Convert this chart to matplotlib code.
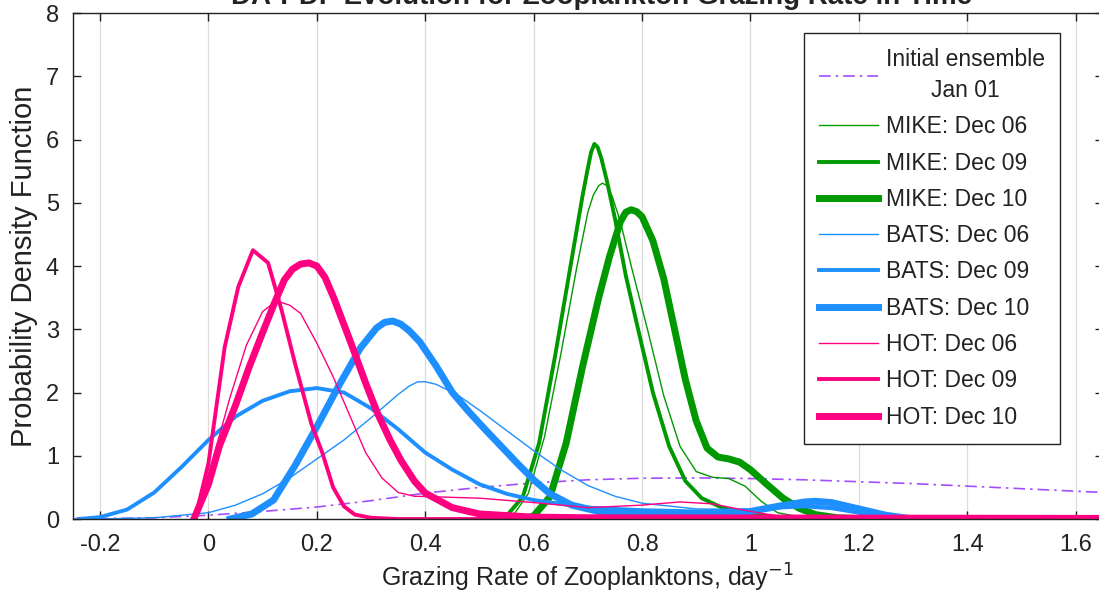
import matplotlib
matplotlib.use('Agg')
import matplotlib.pyplot as plt

plt.rcParams['font.family'] = ['Liberation Sans', 'DejaVu Sans']

# initial ensemble
init_x = [-0.25, -0.1, 0.0, 0.1, 0.2, 0.3, 0.4, 0.5, 0.6, 0.7, 0.8, 0.9, 1.0, 1.1, 1.2, 1.3, 1.4, 1.5, 1.6, 1.65]
init_y = [0, 0.02, 0.06, 0.12, 0.19, 0.29, 0.41, 0.5, 0.57, 0.62, 0.645, 0.65, 0.64, 0.62, 0.59, 0.56, 0.52, 0.48, 0.44, 0.42]

# MIKE
mike06_x = [0.50, 0.56, 0.59, 0.62, 0.65, 0.68, 0.70, 0.71, 0.72, 0.727, 0.735, 0.745, 0.76, 0.78, 0.81, 0.84, 0.87, 0.90, 0.93, 0.96, 0.99, 1.02, 1.05, 1.10, 1.20]
mike06_y = [0, 0.03, 0.4, 1.3, 2.6, 4.0, 4.85, 5.12, 5.27, 5.31, 5.27, 5.1, 4.7, 4.0, 3.0, 1.95, 1.15, 0.75, 0.66, 0.64, 0.52, 0.28, 0.1, 0.02, 0]
mike09_x = [0.50, 0.55, 0.58, 0.61, 0.64, 0.67, 0.69, 0.70, 0.706, 0.712, 0.718, 0.725, 0.735, 0.75, 0.77, 0.79, 0.82, 0.85, 0.88, 0.91, 0.95, 1.0, 1.05, 1.12]
mike09_y = [0, 0.05, 0.35, 1.2, 2.6, 4.1, 5.1, 5.55, 5.8, 5.93, 5.88, 5.7, 5.35, 4.75, 3.85, 3.1, 2.0, 1.15, 0.6, 0.33, 0.17, 0.08, 0.03, 0]
mike10_x = [0.58, 0.60, 0.63, 0.66, 0.69, 0.72, 0.74, 0.76, 0.77, 0.78, 0.79, 0.80, 0.82, 0.84, 0.86, 0.88, 0.90, 0.92, 0.94, 0.96, 0.98, 1.00, 1.03, 1.06, 1.09, 1.12, 1.16, 1.22]
mike10_y = [0, 0.05, 0.35, 1.2, 2.4, 3.5, 4.15, 4.7, 4.85, 4.89, 4.86, 4.78, 4.4, 3.8, 3.0, 2.2, 1.55, 1.12, 0.98, 0.95, 0.9, 0.78, 0.55, 0.33, 0.17, 0.07, 0.02, 0]

# BATS
bats06_x = [-0.2, -0.1, 0.0, 0.05, 0.1, 0.15, 0.2, 0.25, 0.3, 0.35, 0.37, 0.386, 0.40, 0.42, 0.46, 0.5, 0.55, 0.6, 0.65, 0.7, 0.75, 0.8, 0.9, 1.0, 1.05, 1.1, 1.15, 1.2, 1.3, 1.4]
bats06_y = [0, 0.02, 0.1, 0.22, 0.4, 0.65, 0.95, 1.25, 1.6, 1.97, 2.1, 2.17, 2.17, 2.13, 1.96, 1.72, 1.4, 1.08, 0.78, 0.53, 0.36, 0.25, 0.16, 0.15, 0.18, 0.22, 0.2, 0.12, 0.03, 0]
bats09_x = [-0.24, -0.2, -0.15, -0.1, -0.05, 0.0, 0.05, 0.1, 0.15, 0.2, 0.25, 0.3, 0.35, 0.4, 0.45, 0.5, 0.55, 0.6, 0.7, 0.8, 0.9, 1.0, 1.05, 1.1, 1.15, 1.2, 1.3]
bats09_y = [0, 0.03, 0.15, 0.42, 0.82, 1.25, 1.62, 1.87, 2.02, 2.07, 2.0, 1.75, 1.42, 1.05, 0.78, 0.55, 0.4, 0.3, 0.18, 0.14, 0.12, 0.14, 0.18, 0.2, 0.17, 0.1, 0]
bats10_x = [0.04, 0.08, 0.12, 0.16, 0.2, 0.24, 0.28, 0.31, 0.325, 0.34, 0.355, 0.37, 0.39, 0.42, 0.45, 0.48, 0.51, 0.54, 0.57, 0.6, 0.63, 0.67, 0.72, 0.8, 0.9, 1.0, 1.05, 1.1, 1.12, 1.15, 1.2, 1.25, 1.3]
bats10_y = [0, 0.08, 0.3, 0.85, 1.46, 2.1, 2.7, 3.02, 3.11, 3.13, 3.08, 2.98, 2.8, 2.42, 2.0, 1.7, 1.42, 1.15, 0.88, 0.62, 0.4, 0.22, 0.12, 0.08, 0.07, 0.12, 0.2, 0.27, 0.28, 0.26, 0.16, 0.06, 0]

# HOT
hot06_x = [-0.03, 0.0, 0.04, 0.07, 0.1, 0.125, 0.15, 0.17, 0.2, 0.23, 0.26, 0.29, 0.32, 0.35, 0.38, 0.42, 0.5, 0.6, 0.7, 0.8, 0.87, 0.93, 1.0, 1.05, 1.1, 1.2, 1.65]
hot06_y = [0, 0.7, 1.93, 2.75, 3.28, 3.45, 3.38, 3.25, 2.78, 2.25, 1.65, 1.05, 0.65, 0.42, 0.36, 0.35, 0.33, 0.26, 0.18, 0.22, 0.27, 0.24, 0.12, 0.05, 0.01, 0, 0]
hot09_x = [-0.025, 0.0, 0.03, 0.055, 0.082, 0.11, 0.135, 0.16, 0.19, 0.21, 0.23, 0.25, 0.27, 0.3, 0.35, 0.45, 1.65]
hot09_y = [0, 0.88, 2.72, 3.67, 4.25, 4.05, 3.3, 2.45, 1.5, 1.05, 0.5, 0.2, 0.07, 0.02, 0, 0, 0]
hot10_x = [-0.027, 0.0, 0.02, 0.05, 0.075, 0.1, 0.121, 0.14, 0.155, 0.17, 0.185, 0.2, 0.215, 0.231, 0.263, 0.29, 0.312, 0.335, 0.355, 0.38, 0.4, 0.45, 0.5, 0.6, 0.7, 1.65]
hot10_y = [0, 0.55, 1.15, 1.8, 2.4, 2.95, 3.4, 3.78, 3.95, 4.03, 4.05, 4.0, 3.82, 3.5, 2.78, 2.15, 1.67, 1.25, 0.93, 0.6, 0.41, 0.18, 0.08, 0.03, 0.02, 0.01]

green = '#009900'
blue = '#1E8FFF'
pink = '#FF0080'
purple = '#A24DFF'
lw_thin, lw_mid, lw_thick = 1.0, 2.8, 5.0

fig = plt.figure(figsize=(10.99, 6.05), dpi=100)
ax = fig.add_axes([0.0664, 0.1421, 0.937, 0.8364])

ax.plot(init_x, init_y, color=purple, lw=1.2, ls=(0, (7, 3, 1.5, 3)), label='Initial ensemble\nJan 01')
ax.plot(mike06_x, mike06_y, color=green, lw=lw_thin, label='MIKE: Dec 06')
ax.plot(mike09_x, mike09_y, color=green, lw=lw_mid, label='MIKE: Dec 09')
ax.plot(mike10_x, mike10_y, color=green, lw=lw_thick, label='MIKE: Dec 10')
ax.plot(bats06_x, bats06_y, color=blue, lw=lw_thin, label='BATS: Dec 06')
ax.plot(bats09_x, bats09_y, color=blue, lw=lw_mid, label='BATS: Dec 09')
ax.plot(bats10_x, bats10_y, color=blue, lw=lw_thick, label='BATS: Dec 10')
ax.plot(hot06_x, hot06_y, color=pink, lw=lw_thin, label='HOT: Dec 06')
ax.plot(hot09_x, hot09_y, color=pink, lw=lw_mid, label='HOT: Dec 09')
ax.plot(hot10_x, hot10_y, color=pink, lw=lw_thick, label='HOT: Dec 10')

ax.set_xlim(-0.25, 1.65)
ax.set_ylim(0, 8)
ax.set_xticks([-0.2, 0, 0.2, 0.4, 0.6, 0.8, 1.0, 1.2, 1.4, 1.6])
ax.set_xticklabels(['-0.2', '0', '0.2', '0.4', '0.6', '0.8', '1', '1.2', '1.4', '1.6'])
ax.set_yticks(range(0, 9))
ax.grid(axis='x', color='#DCDCDC', lw=0.9)
ax.set_axisbelow(True)
ax.tick_params(direction='in', length=6, width=1, labelsize=17, top=True, right=True, colors='#222222')
ax.tick_params(axis='x', pad=11)
ax.tick_params(axis='y', pad=10)
for s in ax.spines.values():
    s.set_color('#222222')
    s.set_linewidth(1.0)

ax.set_xlabel('Grazing Rate of Zooplanktons, day$^{-1}$', fontsize=18, color='#222222', labelpad=4)
ax.set_ylabel('Probability Density Function', fontsize=21, color='#222222', labelpad=6)

fig.text(0.547, 0.993, 'DA-PDF Evolution for Zooplankton Grazing Rate in Time',
         ha='center', va='baseline', fontsize=20, fontweight='bold', color='#222222')

leg = ax.legend(loc='upper right', bbox_to_anchor=(0.9586, 0.9605), borderaxespad=0,
                fontsize=16.5, fancybox=False, framealpha=1, edgecolor='#222222',
                handlelength=2.6, handletextpad=0.35, labelspacing=0.58, borderpad=0.65)
leg.get_frame().set_linewidth(1.0)
for t in leg.get_texts():
    t.set_color('#222222')
leg.get_texts()[0].set_multialignment('center')
leg.get_texts()[0].set_linespacing(1.45)

fig.savefig('out.png', dpi=100)
